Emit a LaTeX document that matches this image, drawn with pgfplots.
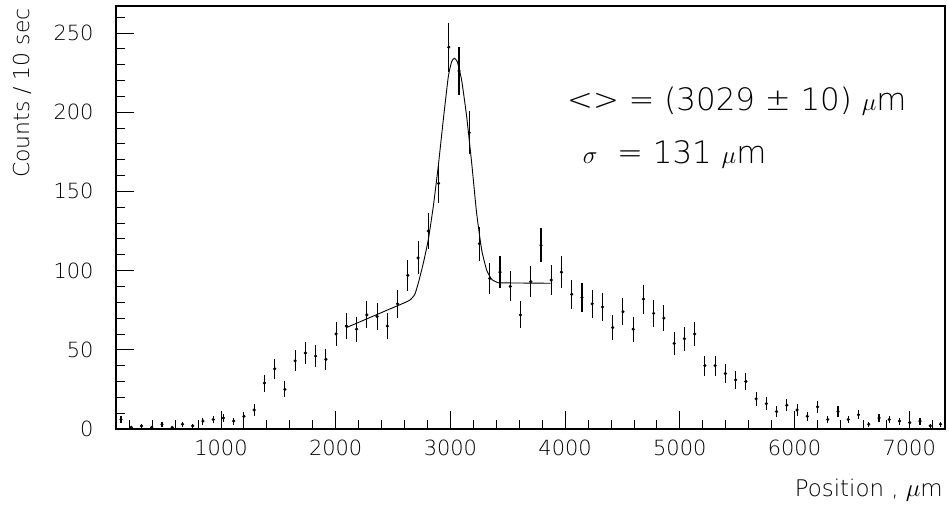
\documentclass[border=0pt]{standalone}
\usepackage{pgfplots}
\pgfplotsset{compat=1.18}
\usepackage{pgfplotstable}
\usepackage{fontspec}
\setmainfont{DejaVu Sans ExtraLight}

% position (um), counts per 10 s, statistical error
\pgfplotstableread{
x y e
128.6 6 2.4
217.9 1 1
307.2 2 1.4
396.5 1 1
485.8 3 1.7
575.1 1 1
664.4 3 1.7
753.7 2 1.4
843.0 5 2.2
932.3 6 2.4
1021.6 7 2.6
1110.9 5 2.2
1200.2 8 2.8
1289.5 12 3.5
1378.8 29 5.4
1468.1 38 6.2
1557.4 25 5
1646.7 43 6.6
1736.0 48 6.9
1825.3 46 6.8
1914.6 44 6.6
2003.9 60 7.7
2093.2 65 8.1
2182.5 63 7.9
2271.8 72 8.5
2361.1 71 8.4
2450.4 65 8.1
2539.7 79 8.9
2629.0 97 9.8
2718.3 108 10.4
2807.6 125 11.2
2896.9 155 12.4
2986.2 241 15.5
3075.5 226 15
3164.8 187 13.7
3254.1 117 10.8
3343.4 95 9.7
3432.7 99 9.9
3522.0 90 9.5
3611.3 72 8.5
3700.6 93 9.6
3789.9 116 10.8
3879.2 94 9.7
3968.5 99 9.9
4057.8 85 9.2
4147.1 83 9.1
4236.4 79 8.9
4325.7 77 8.8
4415.0 64 8
4504.3 74 8.6
4593.6 63 7.9
4682.9 82 9.1
4772.2 73 8.5
4861.5 70 8.4
4950.8 54 7.3
5040.1 57 7.5
5129.4 60 7.7
5218.7 40 6.3
5308.0 40 6.3
5397.3 35 5.9
5486.6 31 5.6
5575.9 30 5.5
5665.2 19 4.4
5754.5 16 4
5843.8 11 3.3
5933.1 15 3.9
6022.4 12 3.5
6111.7 8 2.8
6201.0 14 3.7
6290.3 6 2.4
6379.6 11 3.3
6468.9 6 2.4
6558.2 9 3
6647.5 3 1.7
6736.8 7 2.6
6826.1 6 2.4
6915.4 5 2.2
7004.7 4 2
7094.0 5 2.2
7183.3 2 1.4
7272.6 3 1.7
}\counts

% fitted peak on top of the background
\pgfplotstableread{
x y
2090 63.9
2200 67.3
2300 70.4
2400 73.5
2500 76.6
2600 79.7
2650 81.5
2690 85
2720 92
2764 104.6
2807 119.3
2851 140.4
2894 165.6
2938 195
2982 222.4
3011 231.9
3034 234
3060 231.9
3098 220.3
3142 197.2
3186 167.7
3229 136.2
3273 113
3316 100.4
3360 94.5
3418 92.3
3500 92.2
3874 92.0
}\fit

\begin{document}
\begin{tikzpicture}
\path[use as bounding box] (-116bp,-78bp) rectangle (833bp,429bp);
\begin{axis}[
  scale only axis,
  width=829bp, height=423bp,
  xmin=85, xmax=7312, ymin=0, ymax=267,
  clip=false,
  axis line style={line width=1.1bp},
  tick style={line width=0.8bp, black},
  tick align=inside,
  xtick pos=bottom, ytick pos=left,
  xtick={1000,2000,...,7000},
  minor xtick={200,400,...,7200},
  ytick={0,50,...,250},
  minor ytick={10,20,...,260},
  major tick length=18bp, minor tick length=9bp,
  /pgf/number format/assume math mode=true,
  /pgf/number format/1000 sep={},
  ticklabel style={font=\fontsize{21}{25}\selectfont},
  yticklabel style={xshift=-19bp},
  xticklabel style={yshift=-7bp},
  xlabel={Position , $\mu$m},
  xlabel style={at={(rel axis cs:1,0)}, anchor=base east, inner sep=0pt,
    xshift=-2bp, yshift=-67bp, font=\fontsize{23}{27}\selectfont},
  ylabel={Counts / 10 sec},
  ylabel style={at={(rel axis cs:-0.1242,0.9953)}, anchor=north east, inner sep=0pt,
    font=\fontsize{22}{26}\selectfont},
]
\addplot[only marks, mark=*, mark size=1.4bp, black,
  error bars/.cd, y dir=both, y explicit, error mark=none,
  error bar style={line width=1.1bp, black}]
  table[x=x, y=y, y error=e] {\counts};
\addplot[black, line width=0.9bp, smooth, tension=0.3] table[x=x, y=y] {\fit};
\node[anchor=base west, inner sep=0pt, font=\fontsize{31}{35}\selectfont]
  at (rel axis cs:0.544,0.752) {<> = (3029 ± 10) $\mu$m};
\node[anchor=base west, inner sep=0pt, font=\fontsize{31}{35}\selectfont]
  at (rel axis cs:0.563,0.6265) {$\sigma$ \ = 131 $\mu$m};
\end{axis}
\end{tikzpicture}
\end{document}
